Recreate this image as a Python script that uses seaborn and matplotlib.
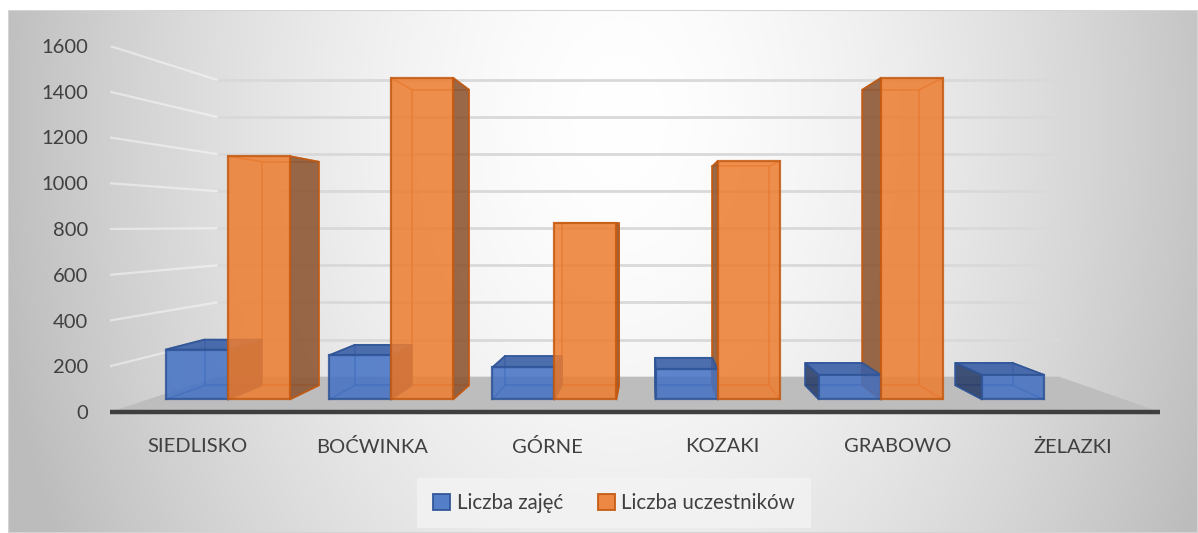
import numpy as np
import pandas as pd
import matplotlib
matplotlib.use("Agg")
import matplotlib.pyplot as plt
import seaborn as sns
from matplotlib.patches import Polygon, Patch, Rectangle

# ---------------- data ----------------
categories = ["SIEDLISKO", "BOĆWINKA", "GÓRNE", "KOZAKI", "GRABOWO", "ŻELAZKI"]
series_names = ["Liczba zajęć", "Liczba uczestników"]
liczba_zajec = [234, 207, 150, 141, 115, 115]
liczba_uczestnikow = [1140, 1507, 826, 1117, 1507, 0]
y_ticks = [0, 200, 400, 600, 800, 1000, 1200, 1400, 1600]

# ---------------- style ----------------
W, H = 1198, 533
sns.set_style("white")
plt.rcParams["font.family"] = ["Lato", "DejaVu Sans"]
TEXT = "#404040"
face_cols = ["#4472C4", "#ED7D31"]
edge_cols = ["#2F5597", "#C55A11"]
side_cols = ["#283c68", "#8c5430"]
top_cols = ["#3a5fa6", "#b8612a"]

# simple perspective (vanishing point in data coordinates)
VX, VY = 2.586, 817.5
K_FRONT, K_BACK = 0.933, 0.858
KX_WALL, KY_WALL = 0.802, 0.811


def proj(x, y, kx, ky=None):
    ky = kx if ky is None else ky
    return VX + (x - VX) * kx, VY + (y - VY) * ky


df = pd.DataFrame({
    "cat": categories * 2,
    "series": [series_names[0]] * len(categories) + [series_names[1]] * len(categories),
    "val": liczba_zajec + liczba_uczestnikow,
})

fig = plt.figure(figsize=(W / 100, H / 100), dpi=100)
fig.patch.set_facecolor("white")

# background gradient
bg = fig.add_axes([8 / W, 0, (W - 8) / W, (H - 10) / H], zorder=-10)
xs = np.linspace(8, W, 400)
ys = np.linspace(10, H, 200)
X, Y = np.meshgrid(xs, ys)
d = np.sqrt(((X - 620) / 620) ** 2 + ((Y - 120) / 900) ** 2)
g = np.clip(255 - 64 * d ** 1.6, 188, 255) / 255.0
img = np.dstack([g, g, g])
bg.imshow(img, aspect="auto", extent=[0, 1, 0, 1], origin="upper")
bg.set_xlim(0, 1)
bg.set_ylim(0, 1)
bg.axis("off")
bg.add_patch(Rectangle((0, 0), 1, 1, transform=bg.transAxes, fill=False,
                       edgecolor="#d4d4d4", lw=1.5))

# main axes: 0 -> y=412px, 1600 -> y=46px ; x from 110px to 1160px
ax = fig.add_axes([110 / W, (H - 412) / H, 1050 / W, 366 / H])
ax.patch.set_alpha(0)

sns.barplot(data=df, x="cat", y="val", hue="series", order=categories,
            hue_order=series_names, palette=face_cols, width=0.76,
            saturation=1, legend=False, ax=ax, zorder=5)

ax.set_xlim(-0.5, len(categories) - 0.5)
ax.set_ylim(0, 1600)
xl, xr = ax.get_xlim()

# floor
fl = [(xl, 0), (xr, 0), proj(xr, 0, KX_WALL, KY_WALL), proj(xl, 0, KX_WALL, KY_WALL)]
ax.add_patch(Polygon(fl, closed=True, facecolor="#bdbdbd", edgecolor="none", zorder=1))
ax.plot([xl, xr], [0, 0], color="#3f3f3f", lw=3.2, solid_capstyle="butt", zorder=2, clip_on=False)

# back-wall & side-wall gridlines
for v in y_ticks[1:]:
    bl = proj(xl, v, KX_WALL, KY_WALL)
    br = proj(xr, v, KX_WALL, KY_WALL)
    ax.plot([bl[0], br[0]], [bl[1], br[1]], color="#d9d9d9", lw=2, zorder=1.5)
    ax.plot([xl, bl[0]], [v, bl[1]], color="white", lw=1.6, zorder=1.5, alpha=0.45)

# 3D-look bars derived from seaborn's bar patches
for si, cont in enumerate(ax.containers):
    ec = edge_cols[si]
    for p in cont.patches:
        x0, w, h = p.get_x(), p.get_width(), p.get_height()
        if h <= 0:
            p.set_visible(False)
            continue
        fx0, fy0 = proj(x0, 0, K_FRONT)
        fx1, fy1 = proj(x0 + w, h, K_FRONT)
        bx0, by0 = proj(x0, 0, K_BACK)
        bx1, by1 = proj(x0 + w, h, K_BACK)
        # hidden back edges (seen through transparency)
        ax.add_patch(Rectangle((bx0, by0), bx1 - bx0, by1 - by0, fill=False,
                               edgecolor=ec, lw=1.2, alpha=0.7, zorder=3))
        for (ax_, ay_), (bx_, by_) in [((fx0, fy0), (bx0, by0)), ((fx1, fy0), (bx1, by0)),
                                       ((fx0, fy1), (bx0, by1)), ((fx1, fy1), (bx1, by1))]:
            ax.plot([ax_, bx_], [ay_, by_], color=ec, lw=1.2, alpha=0.7, zorder=3)
        # side face
        if x0 + w < VX:
            side = [(fx1, fy0), (fx1, fy1), (bx1, by1), (bx1, by0)]
        elif x0 > VX:
            side = [(fx0, fy0), (fx0, fy1), (bx0, by1), (bx0, by0)]
        else:
            side = None
        if side is not None:
            ax.add_patch(Polygon(side, closed=True, facecolor=side_cols[si], alpha=0.88,
                                 edgecolor=ec, lw=1.2, zorder=4))
        # top face (visible when below the horizon)
        if h < VY:
            top = [(fx0, fy1), (fx1, fy1), (bx1, by1), (bx0, by1)]
            ax.add_patch(Polygon(top, closed=True, facecolor=top_cols[si], alpha=0.9,
                                 edgecolor=ec, lw=1.2, zorder=4.5))
        # front face = the seaborn bar itself
        p.set_bounds(fx0, fy0, fx1 - fx0, fy1 - fy0)
        p.set_alpha(0.86)
        p.set_edgecolor(ec)
        p.set_linewidth(1.6)
        p.set_zorder(5)

# axes cosmetics
for s in ax.spines.values():
    s.set_visible(False)
ax.set_yticks(y_ticks)
ax.set_yticklabels([str(v) for v in y_ticks])
ax.set_xlabel("")
ax.set_ylabel("")
ax.tick_params(axis="y", length=0, pad=16, labelsize=14.5, labelcolor=TEXT)
ax.tick_params(axis="x", length=0, pad=19, labelsize=14.5, labelcolor=TEXT)
ax.grid(False)

# legend
handles = [Patch(facecolor=face_cols[i], edgecolor=edge_cols[i], lw=1.4, alpha=0.9,
                 label=series_names[i]) for i in range(2)]
leg = fig.legend(handles=handles, loc="center", bbox_to_anchor=(614 / W, 1 - 503 / H),
                 ncol=2, frameon=True, fontsize=14.8, handlelength=0.85, handleheight=0.85,
                 handletextpad=0.3, columnspacing=1.7, borderpad=0.75, fancybox=False)
leg.get_frame().set_facecolor("#f3f3f3")
leg.get_frame().set_edgecolor("none")
for t in leg.get_texts():
    t.set_color(TEXT)

fig.savefig("out.png", dpi=100)
